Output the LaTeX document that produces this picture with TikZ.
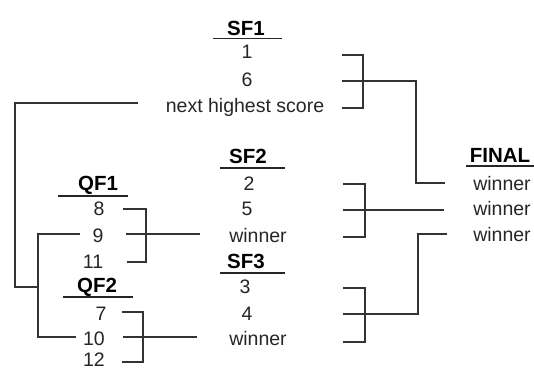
\documentclass[tikz,border=0pt]{standalone}
\usepackage{fontspec}
\setmainfont{Liberation Sans}
\usetikzlibrary{calc}
\begin{document}
\begin{tikzpicture}[x=1pt,y=-1pt,
  txt/.style={anchor=base,inner sep=0pt,font=\fontsize{19.5}{22}\selectfont,text=black!85},
  head/.style={anchor=base,inner sep=0pt,font=\fontsize{20.5}{24}\selectfont\bfseries,text=black},
  conn/.style={line width=1.4pt,draw=black!80,line join=miter},
  rule/.style={line width=1.4pt,draw=black!85}]
\useasboundingbox[fill=white] (0,0) rectangle (534,369);

% ---- SF1 ----
\node[head] (sf1) at (246,35) {SF1};
\node[txt] (s1a) at (247,58) {1};
\node[txt] (s1b) at (247,86) {6};
\node[txt] (s1c) at (245,112) {next highest score};
% ---- SF2 ----
\node[head] (sf2) at (248,163) {SF2};
\node[txt] (s2a) at (249,190) {2};
\node[txt] (s2b) at (247,215) {5};
\node[txt] (s2c) at (258,242) {winner};
% ---- SF3 ----
\node[head] (sf3) at (246,268) {SF3};
\node[txt] (s3a) at (245,293) {3};
\node[txt] (s3b) at (247,320) {4};
\node[txt] (s3c) at (258,345) {winner};
% ---- QF1 ----
\node[head] (qf1) at (98,190) {QF1};
\node[txt] (q1a) at (99,215) {8};
\node[txt] (q1b) at (98,242) {9};
\node[txt] (q1c) at (93,268) {11};
% ---- QF2 ----
\node[head] (qf2) at (97,292) {QF2};
\node[txt] (q2a) at (101,320) {7};
\node[txt] (q2b) at (94,345) {10};
\node[txt] (q2c) at (94,366) {12};
% ---- FINAL ----
\node[head] (fin) at (500,162) {FINAL};
\node[txt] (f1) at (502,190) {winner};
\node[txt] (f2) at (502,215) {winner};
\node[txt] (f3) at (502,241) {winner};

% ---- header rules ----
\draw[rule] (213,38.5) -- (282,38.5);
\draw[rule] (220,168) -- (285,168);
\draw[rule] (220,273) -- (285,273);
\draw[rule] (58,196) -- (128,196);
\draw[rule] (63,297) -- (133,297);
\draw[rule] (466,166) -- (534,166);

% ---- bracket points ----
\coordinate (ns) at (138,103);
\coordinate (l1) at (15,103);
\coordinate (l2) at (15,287);
\coordinate (j)  at (38,287);
\coordinate (n9) at (80,234);
\coordinate (n10) at (76,337);

\coordinate (q1t) at (123,209);
\coordinate (q1m) at (126,234);
\coordinate (q1bo) at (127,262);
\coordinate (q1o) at (200,234);

\coordinate (q2t) at (122,312);
\coordinate (q2m) at (123,337);
\coordinate (q2bo) at (122,362);
\coordinate (q2o) at (197,337);

\coordinate (s1t) at (342,55);
\coordinate (s1m) at (342,81);
\coordinate (s1bo) at (342,108);
\coordinate (f1in) at (445,183);

\coordinate (s2t) at (343,184);
\coordinate (s2m) at (343,210);
\coordinate (s2bo) at (343,237);
\coordinate (f2in) at (444,210);

\coordinate (s3t) at (343,288);
\coordinate (s3m) at (343,314);
\coordinate (s3bo) at (343,342);
\coordinate (f3in) at (447,234);

% ---- left connectors ----
\draw[conn] (ns) -- (l1) -- (l2) -- (j);
\draw[conn] (n9) -| (j) |- (n10);

% ---- QF brackets ----
\draw[conn] (q1t) -- ++(23,0) |- (q1bo);
\draw[conn] (q1m) -- (q1o);
\draw[conn] (q2t) -- ++(21,0) |- (q2bo);
\draw[conn] (q2m) -- (q2o);

% ---- SF brackets ----
\draw[conn] (s1t) -- ++(21,0) |- (s1bo);
\draw[conn] (s1m) -- ++(74,0) |- (f1in);
\draw[conn] (s2t) -- ++(22,0) |- (s2bo);
\draw[conn] (s2m) -- (f2in);
\draw[conn] (s3t) -- ++(22,0) |- (s3bo);
\draw[conn] (s3m) -- ++(75,0) |- (f3in);
\end{tikzpicture}
\end{document}
